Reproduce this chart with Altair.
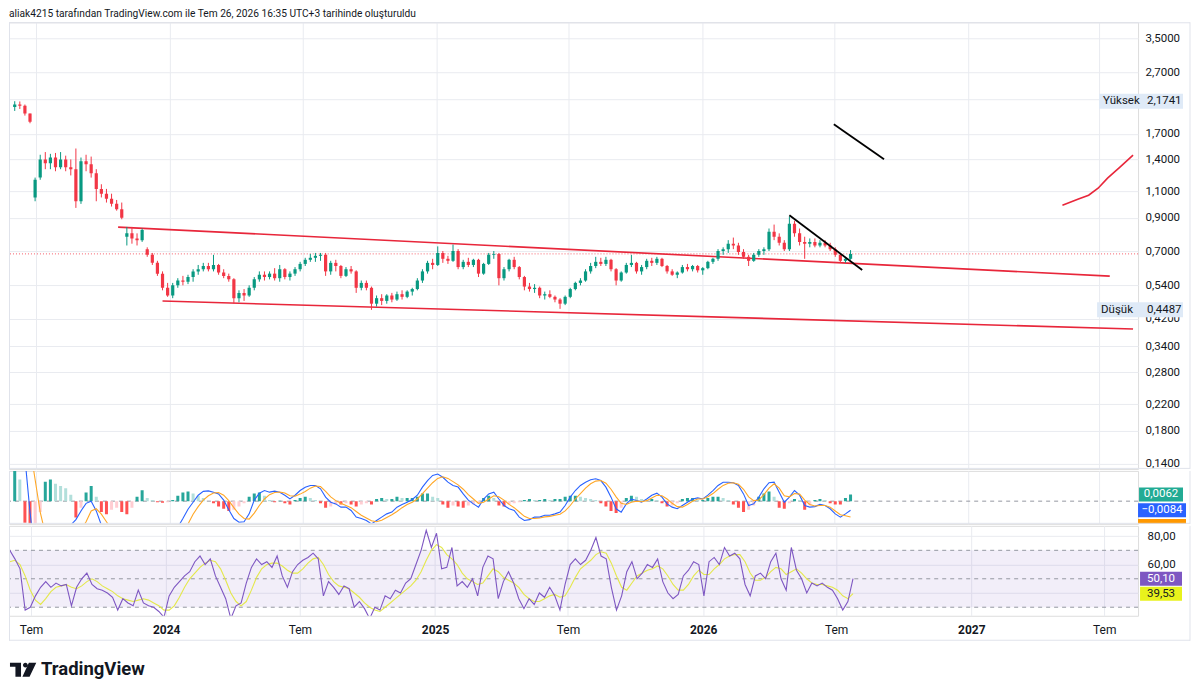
import altair as alt
import pandas as pd

# ---------------- data (weekly samples) ----------------
start_date = "2023-06-02"

opens = [2.08, 2.12, 2.10, 1.98, 1.05, 1.22, 1.40, 1.36, 1.42, 1.32, 1.40, 1.32, 1.30, 1.02, 1.38, 1.35, 1.26, 1.12, 1.08, 1.04,
         1.00, 0.96, 0.78, 0.80, 0.77, 0.76, 0.71, 0.68, 0.64, 0.59, 0.53, 0.50, 0.54, 0.56, 0.555, 0.575, 0.60, 0.61, 0.625, 0.61,
         0.63, 0.595, 0.58, 0.565, 0.49, 0.51, 0.50, 0.53, 0.565, 0.585, 0.575, 0.59, 0.57, 0.61, 0.575, 0.59, 0.61, 0.635, 0.655, 0.665,
         0.675, 0.68, 0.60, 0.64, 0.625, 0.58, 0.61, 0.60, 0.53, 0.55, 0.53, 0.47, 0.49, 0.48, 0.50, 0.485, 0.505, 0.495, 0.515, 0.525,
         0.56, 0.60, 0.64, 0.63, 0.69, 0.66, 0.65, 0.70, 0.62, 0.645, 0.63, 0.655, 0.59, 0.635, 0.68, 0.685, 0.57, 0.61, 0.655, 0.62,
         0.575, 0.535, 0.525, 0.53, 0.50, 0.505, 0.495, 0.485, 0.47, 0.495, 0.525, 0.55, 0.56, 0.60, 0.625, 0.645, 0.635, 0.655, 0.61, 0.56,
         0.595, 0.63, 0.64, 0.60, 0.62, 0.65, 0.64, 0.66, 0.625, 0.60, 0.585, 0.595, 0.62, 0.61, 0.625, 0.605, 0.615, 0.645, 0.66, 0.70,
         0.71, 0.74, 0.73, 0.695, 0.67, 0.65, 0.68, 0.70, 0.71, 0.81, 0.78, 0.745, 0.71, 0.86, 0.80, 0.75, 0.74, 0.75, 0.73, 0.745,
         0.73, 0.71, 0.68, 0.65, 0.66]
highs = [2.174, 2.17, 2.12, 1.98, 1.22, 1.45, 1.48, 1.46, 1.47, 1.48, 1.44, 1.40, 1.52, 1.42, 1.45, 1.43, 1.30, 1.16, 1.12, 1.08,
         1.03, 1.01, 0.84, 0.84, 0.80, 0.83, 0.72, 0.69, 0.65, 0.60, 0.55, 0.55, 0.57, 0.58, 0.585, 0.61, 0.63, 0.64, 0.64, 0.68,
         0.635, 0.61, 0.59, 0.57, 0.52, 0.525, 0.54, 0.575, 0.60, 0.60, 0.60, 0.615, 0.63, 0.615, 0.60, 0.62, 0.645, 0.665, 0.685, 0.69,
         0.69, 0.69, 0.65, 0.655, 0.63, 0.62, 0.625, 0.605, 0.56, 0.56, 0.535, 0.50, 0.505, 0.505, 0.51, 0.515, 0.52, 0.52, 0.53, 0.57,
         0.61, 0.65, 0.66, 0.725, 0.70, 0.675, 0.735, 0.71, 0.655, 0.665, 0.66, 0.66, 0.64, 0.69, 0.70, 0.69, 0.62, 0.66, 0.67, 0.625,
         0.58, 0.55, 0.545, 0.535, 0.515, 0.52, 0.50, 0.49, 0.50, 0.53, 0.555, 0.57, 0.61, 0.64, 0.67, 0.665, 0.67, 0.66, 0.615, 0.60,
         0.64, 0.68, 0.645, 0.63, 0.66, 0.665, 0.67, 0.665, 0.63, 0.61, 0.60, 0.63, 0.635, 0.63, 0.63, 0.62, 0.65, 0.665, 0.71, 0.72,
         0.76, 0.775, 0.745, 0.71, 0.68, 0.69, 0.71, 0.72, 0.83, 0.855, 0.80, 0.76, 0.91, 0.88, 0.83, 0.78, 0.77, 0.77, 0.76, 0.76,
         0.745, 0.72, 0.69, 0.67, 0.705]
lows = [2.02, 2.05, 1.95, 1.84, 1.02, 1.20, 1.30, 1.30, 1.28, 1.30, 1.28, 1.24, 0.97, 1.00, 1.28, 1.22, 1.02, 1.05, 1.01, 0.98,
        0.95, 0.89, 0.73, 0.74, 0.73, 0.75, 0.67, 0.63, 0.58, 0.52, 0.495, 0.49, 0.53, 0.54, 0.545, 0.555, 0.585, 0.60, 0.60, 0.60,
        0.585, 0.57, 0.555, 0.47, 0.475, 0.48, 0.495, 0.52, 0.555, 0.56, 0.565, 0.56, 0.555, 0.565, 0.56, 0.58, 0.60, 0.625, 0.645, 0.645,
        0.65, 0.58, 0.585, 0.60, 0.57, 0.575, 0.59, 0.51, 0.52, 0.52, 0.4487, 0.46, 0.465, 0.47, 0.475, 0.48, 0.485, 0.49, 0.50, 0.52,
        0.55, 0.59, 0.61, 0.625, 0.64, 0.635, 0.645, 0.61, 0.61, 0.62, 0.62, 0.575, 0.585, 0.63, 0.66, 0.54, 0.56, 0.60, 0.61, 0.565,
        0.52, 0.515, 0.51, 0.49, 0.485, 0.49, 0.475, 0.452, 0.465, 0.49, 0.52, 0.54, 0.555, 0.59, 0.615, 0.625, 0.625, 0.60, 0.54, 0.555,
        0.59, 0.62, 0.59, 0.585, 0.61, 0.625, 0.63, 0.62, 0.59, 0.58, 0.57, 0.59, 0.60, 0.60, 0.595, 0.585, 0.61, 0.635, 0.65, 0.68,
        0.69, 0.71, 0.68, 0.66, 0.625, 0.645, 0.67, 0.68, 0.70, 0.76, 0.73, 0.70, 0.70, 0.78, 0.73, 0.66, 0.72, 0.72, 0.72, 0.72,
        0.70, 0.67, 0.64, 0.64, 0.655]
closes = [2.12, 2.10, 1.98, 1.86, 1.20, 1.40, 1.36, 1.42, 1.32, 1.40, 1.32, 1.30, 1.02, 1.38, 1.35, 1.26, 1.12, 1.08, 1.04, 1.00,
          0.96, 0.90, 0.80, 0.77, 0.76, 0.82, 0.68, 0.64, 0.59, 0.53, 0.50, 0.54, 0.56, 0.555, 0.575, 0.60, 0.61, 0.625, 0.61, 0.63,
          0.595, 0.58, 0.565, 0.49, 0.51, 0.50, 0.53, 0.565, 0.585, 0.575, 0.59, 0.57, 0.61, 0.575, 0.59, 0.61, 0.635, 0.655, 0.665, 0.675,
          0.68, 0.60, 0.64, 0.625, 0.58, 0.61, 0.60, 0.53, 0.55, 0.53, 0.47, 0.49, 0.48, 0.50, 0.485, 0.505, 0.495, 0.515, 0.525, 0.56,
          0.60, 0.64, 0.63, 0.69, 0.66, 0.65, 0.70, 0.62, 0.645, 0.63, 0.655, 0.59, 0.635, 0.68, 0.685, 0.57, 0.61, 0.655, 0.62, 0.575,
          0.535, 0.525, 0.53, 0.50, 0.505, 0.495, 0.485, 0.47, 0.495, 0.525, 0.55, 0.56, 0.60, 0.625, 0.645, 0.635, 0.655, 0.61, 0.56, 0.595,
          0.63, 0.64, 0.60, 0.62, 0.65, 0.64, 0.66, 0.625, 0.60, 0.585, 0.595, 0.62, 0.61, 0.625, 0.605, 0.615, 0.645, 0.66, 0.70, 0.71,
          0.74, 0.73, 0.695, 0.67, 0.65, 0.68, 0.70, 0.71, 0.81, 0.78, 0.745, 0.71, 0.86, 0.80, 0.75, 0.74, 0.75, 0.73, 0.745, 0.73,
          0.71, 0.68, 0.65, 0.66, 0.685]

macd_line = [0.08, 0.06, 0.04, -0.01, -0.05, -0.06, -0.055, -0.045, -0.038, -0.032, -0.027, -0.022, -0.017, -0.009, -0.002, 0.0, -0.009, -0.022, -0.03, -0.038,
             -0.045, -0.05, -0.055, -0.058, -0.058, -0.055, -0.052, -0.05, -0.048, -0.045, -0.04, -0.033, -0.024, -0.016, -0.0074, -0.001, 0.0055, 0.009, 0.0095, 0.0083,
             0.0067, 0.001, -0.008, -0.016, -0.0194, -0.019, -0.0117, 0.001, 0.0074, 0.0098, 0.0083, 0.0092, 0.0083, 0.0055, 0.0021, 0.0055, 0.0098, 0.0129, 0.0145, 0.0145,
             0.0114, 0.0037, -0.001, -0.0025, -0.0055, -0.0055, -0.0086, -0.0147, -0.016, -0.0178, -0.021, -0.0178, -0.0147, -0.0117, -0.0101, -0.0055, -0.0031, -0.001, 0.0015, 0.0055,
             0.0129, 0.019, 0.0237, 0.025, 0.022, 0.0175, 0.0145, 0.013, 0.0067, 0.001, -0.0025, -0.0055, 0.002, 0.0067, 0.0083, 0.002, -0.004, -0.007, -0.0086, -0.0147,
             -0.0178, -0.017, -0.0147, -0.0147, -0.013, -0.013, -0.0117, -0.0101, -0.004, 0.0037, 0.0098, 0.0145, 0.0175, 0.0197, 0.0206, 0.019, 0.0129, 0.0037, -0.007, -0.0101,
             -0.0025, 0.002, 0.0006, -0.0009, 0.002, 0.0055, 0.0074, 0.0037, -0.0025, -0.0055, -0.007, -0.004, -0.001, 0.002, 0.003, 0.002, 0.0055, 0.0098, 0.0145, 0.0175,
             0.0175, 0.017, 0.0145, 0.0067, -0.004, -0.0025, 0.0037, 0.0114, 0.017, 0.0175, 0.0083, -0.001, 0.0037, 0.0098, 0.0055, -0.004, -0.0055, -0.005, -0.003, -0.004,
             -0.007, -0.0117, -0.0147, -0.0117, -0.0084]
signal_line = [0.09, 0.08, 0.07, 0.05, 0.02, -0.01, -0.03, -0.045, -0.05, -0.05, -0.045, -0.04, -0.034, -0.027, -0.019, -0.009, -0.007, -0.012, -0.019, -0.026,
               -0.033, -0.039, -0.045, -0.05, -0.054, -0.056, -0.056, -0.055, -0.053, -0.051, -0.048, -0.044, -0.038, -0.03, -0.021, -0.012, -0.005, 0.001, 0.005, 0.0075,
               0.008, 0.0055, 0.0005, -0.006, -0.012, -0.016, -0.0165, -0.011, -0.004, 0.002, 0.006, 0.008, 0.0085, 0.0075, 0.005, 0.0045, 0.0065, 0.009, 0.012, 0.014,
               0.0135, 0.009, 0.004, 0.0005, -0.002, -0.004, -0.006, -0.0095, -0.013, -0.0155, -0.018, -0.019, -0.0175, -0.015, -0.0125, -0.0095, -0.006, -0.003, -0.001, 0.002,
               0.007, 0.012, 0.017, 0.021, 0.0225, 0.021, 0.018, 0.015, 0.011, 0.006, 0.002, -0.002, -0.001, 0.002, 0.005, 0.004, 0.001, -0.003, -0.006, -0.01,
               -0.014, -0.016, -0.016, -0.0155, -0.0145, -0.014, -0.013, -0.012, -0.009, -0.004, 0.002, 0.007, 0.012, 0.016, 0.0185, 0.019, 0.0165, 0.011, 0.004, -0.002,
               -0.003, -0.001, 0.0, -0.0005, 0.0005, 0.003, 0.0055, 0.005, 0.002, -0.002, -0.005, -0.0055, -0.003, 0.0, 0.002, 0.002, 0.004, 0.007, 0.011, 0.0145,
               0.0165, 0.017, 0.0155, 0.011, 0.004, 0.0005, 0.001, 0.006, 0.012, 0.016, 0.012, 0.005, 0.004, 0.007, 0.0065, 0.001, -0.003, -0.0045, -0.004, -0.004,
               -0.0055, -0.009, -0.0125, -0.0135, -0.0146]
hist_vals = [0.03, 0.02, -0.02, -0.035, -0.03, -0.01, 0.018, 0.02, 0.016, 0.014, 0.012, 0.006, -0.015, -0.006, 0.008, 0.014, 0.004, -0.01, -0.012, -0.008,
             -0.006, -0.01, -0.012, -0.006, 0.004, 0.01, 0.003, 0.001, -0.001, -0.0015, -0.001, 0.001, 0.005, 0.008, 0.009, 0.007, 0.005, 0.003, 0.0, -0.002,
             -0.005, -0.007, -0.009, -0.008, -0.005, -0.002, 0.004, 0.007, 0.008, 0.005, 0.001, -0.001, 0.0005, -0.002, -0.003, 0.001, 0.003, 0.004, 0.003, 0.001,
             -0.002, -0.006, -0.005, -0.003, -0.003, -0.002, -0.003, -0.005, -0.003, -0.002, -0.003, 0.002, 0.003, 0.002, 0.002, 0.004, 0.003, 0.003, 0.003, 0.004,
             0.007, 0.007, 0.004, 0.003, -0.003, -0.006, -0.004, -0.005, -0.006, -0.004, -0.003, -0.002, 0.003, 0.005, 0.003, -0.004, -0.005, -0.003, -0.002, -0.001,
             0.001, 0.002, 0.001, 0.001, 0.002, 0.001, 0.002, 0.002, 0.004, 0.005, 0.005, 0.004, 0.003, 0.002, 0.001, -0.002, -0.005, -0.009, -0.011, -0.006,
             0.003, 0.005, 0.004, 0.002, 0.001, 0.002, 0.001, -0.002, -0.005, -0.004, -0.002, 0.002, 0.003, 0.003, 0.001, 0.001, 0.003, 0.004, 0.004, 0.003,
             0.001, -0.003, -0.006, -0.01, -0.008, -0.004, 0.004, 0.007, 0.009, 0.004, -0.006, -0.007, -0.002, 0.002, 0.001, -0.008, -0.004, 0.001, 0.002, 0.001,
             -0.002, -0.003, -0.003, 0.003, 0.0062]

rsi_vals = [70, 64, 57, 28, 30, 38, 44, 48, 44, 47, 45, 46, 31, 44, 50, 54, 46, 43, 42, 40,
            37, 28, 36, 33, 31, 42, 33, 31, 30, 27, 23, 38, 44, 48, 52, 55, 62, 66, 60, 64,
            52, 44, 36, 22, 31, 33, 47, 58, 64, 60, 62, 58, 66, 52, 44, 55, 60, 63, 65, 68,
            64, 38, 48, 44, 39, 45, 43, 30, 34, 29, 22, 30, 28, 38, 36, 42, 40, 47, 50, 60,
            70, 84, 72, 82, 57, 58, 72, 45, 48, 44, 50, 38, 58, 66, 64, 36, 48, 55, 47, 36,
            29, 36, 32, 40, 37, 44, 38, 28, 46, 60, 64, 60, 63, 70, 79, 66, 64, 44, 28, 38,
            55, 62, 50, 54, 60, 58, 64, 48, 40, 36, 39, 52, 56, 62, 60, 38, 62, 65, 60, 72,
            66, 68, 64, 46, 38, 52, 54, 50, 62, 68, 50, 42, 72, 56, 50, 40, 47, 45, 47, 44,
            42, 36, 28, 34, 50.1]
rsi_ma_vals = [62, 63, 60, 52, 42, 35, 32, 36, 41, 44, 45, 46, 44, 43, 45, 48, 50, 48, 45, 43,
               41, 38, 36, 35, 34, 35, 36, 35, 33, 31, 28, 28, 31, 37, 44, 50, 54, 58, 61, 63,
               62, 57, 49, 40, 34, 31, 34, 42, 51, 57, 60, 61, 61, 59, 56, 54, 54, 57, 61, 64,
               65, 60, 53, 48, 45, 44, 43, 40, 37, 33, 30, 28, 27, 30, 33, 36, 39, 42, 45, 49,
               55, 63, 70, 74, 72, 67, 64, 60, 54, 50, 48, 46, 47, 52, 57, 55, 51, 49, 47, 44,
               39, 36, 34, 34, 36, 38, 39, 37, 38, 44, 51, 57, 60, 63, 67, 69, 68, 61, 52, 44,
               42, 47, 52, 54, 56, 57, 59, 57, 52, 46, 42, 42, 46, 52, 56, 53, 53, 57, 60, 64,
               66, 67, 67, 62, 54, 49, 49, 51, 55, 58, 57, 53, 55, 57, 54, 50, 47, 46, 46, 45,
               44, 42, 38, 36, 39.53]

# drawings (date, price)
red_group = ["up", "up", "low", "low", "arc", "arc", "arc", "arc", "arc", "arc", "arc"]
red_dates = ["2023-10-22", "2027-07-15", "2023-12-22", "2027-08-16",
             "2027-05-11", "2027-06-02", "2027-06-16", "2027-06-29", "2027-07-12", "2027-07-29", "2027-08-16"]
red_prices = [0.839, 0.579, 0.4795, 0.388, 0.99, 1.037, 1.068, 1.126, 1.215, 1.32, 1.445]
black_group = ["a", "a", "b", "b"]
black_dates = ["2026-07-01", "2026-09-08", "2026-05-01", "2026-08-09"]
black_prices = [1.827, 1.402, 0.918, 0.606]

last_price = 0.685
high_label, low_label = 2.1741, 0.4487

tick_dates = ["2023-07-01", "2024-01-01", "2024-07-01", "2025-01-01", "2025-07-01",
              "2026-01-01", "2026-07-01", "2027-01-01", "2027-07-01"]
price_ticks = [0.14, 0.18, 0.22, 0.28, 0.34, 0.42, 0.54, 0.7, 0.9, 1.1, 1.4, 1.7, 2.2, 2.7, 3.5]
rsi_ticks = [40, 60, 80]
rsi_levels = [30, 50, 70]
title_text = "aliak4215 tarafından TradingView.com ile Tem 26, 2026 16:35 UTC+3 tarihinde oluşturuldu"

# ---------------- styling ----------------
FONT = "Roboto"
TXT = "#131722"
GRID = "#e9ebf0"
BORDER = "#e0e3eb"
GREEN = "#089981"
RED = "#f23645"
W = 1130
FULL_W = 1182
H_MAIN, H_MACD, H_RSI = 447, 53, 90


def dt(s):
    y, m, d = map(int, s.split("-"))
    return alt.DateTime(year=y, month=m, date=d)


xscale = alt.Scale(domain=[dt("2023-06-01"), dt("2027-08-16")], nice=False)
grid_x_axis = alt.Axis(values=[dt(s) for s in tick_dates], labels=False, ticks=False, domain=False,
                       grid=True, gridColor=GRID, title=None)
bottom_x_axis = alt.Axis(values=[dt(s) for s in tick_dates],
                         labelExpr="month(datum.value) == 0 ? timeFormat(datum.value, '%Y') : 'Tem'",
                         labelFontWeight={"condition": {"test": "month(datum.value) == 0", "value": "bold"},
                                          "value": "normal"},
                         ticks=False, domain=False, grid=True, gridColor=GRID, labelPadding=9,
                         labelFontSize=12, labelColor=TXT, labelFont=FONT, labelOverlap=False, title=None)


def X(field, axis=grid_x_axis):
    return alt.X(field, type="temporal", scale=xscale, axis=axis, title=None)


main_scale = alt.Scale(type="log", domain=[0.1347, 3.95], nice=False, zero=False)
main_axis = alt.Axis(orient="right", values=price_ticks,
                     labelExpr="replace(format(datum.value, '.4f'), '.', ',')",
                     grid=True, gridColor=GRID, ticks=False, domain=False, labelPadding=7,
                     labelFontSize=11.5, labelColor=TXT, labelFont=FONT, labelOverlap=False, title=None)


def YM(field):
    return alt.Y(field, type="quantitative", scale=main_scale, axis=main_axis)


macd_scale = alt.Scale(domain=[-0.0209, 0.0279], nice=False, zero=False)


def YD(field):
    return alt.Y(field, type="quantitative", scale=macd_scale, axis=None)


rsi_scale = alt.Scale(domain=[24.0, 87.2], nice=False, zero=False)
rsi_axis = alt.Axis(orient="right", values=rsi_ticks,
                    labelExpr="replace(format(datum.value, '.2f'), '.', ',')",
                    grid=True, gridColor=GRID, ticks=False, domain=False, labelPadding=9,
                    labelFontSize=11.5, labelColor=TXT, labelFont=FONT, labelOverlap=False, title=None)


def YR(field):
    return alt.Y(field, type="quantitative", scale=rsi_scale, axis=rsi_axis)


def tag(yfn, value, text, fill, tcolor, cx, w=44, h=14, yoff=0, tx=None, align="center"):
    d = pd.DataFrame({"v": [value], "t": [text]})
    hh = h / w
    path = f"M-1,{-hh:.4f}L1,{-hh:.4f}L1,{hh:.4f}L-1,{hh:.4f}Z"
    box = alt.Chart(d).mark_point(shape=path, size=w * w, filled=True, fill=fill, color=fill,
                                  opacity=1, strokeWidth=0, yOffset=yoff).encode(
        x=alt.value(cx), y=yfn("v"))
    if text == "":
        return box
    txt = alt.Chart(d).mark_text(align=align, baseline="middle", color=tcolor, fontSize=11.5,
                                 font=FONT, yOffset=yoff).encode(
        x=alt.value(cx if tx is None else tx), y=yfn("v"), text="t:N")
    return box + txt


def label(yfn, value, text, x, color=TXT):
    d = pd.DataFrame({"v": [value], "t": [text]})
    return alt.Chart(d).mark_text(align="left", baseline="middle", color=color, fontSize=11.5,
                                  font=FONT).encode(x=alt.value(x), y=yfn("v"), text="t:N")


def borders(h, top=False, bottom=True):
    """light frame pieces of one pane (left, right, optional top/bottom)"""
    parts = [
        alt.Chart(pd.DataFrame({"k": [0]})).mark_rule(color=BORDER, strokeWidth=1).encode(
            x=alt.value(0.5), y=alt.value(0), y2=alt.value(h)),
        alt.Chart(pd.DataFrame({"k": [0]})).mark_rule(color=BORDER, strokeWidth=1).encode(
            x=alt.value(FULL_W), y=alt.value(0), y2=alt.value(h)),
    ]
    if top:
        parts.append(alt.Chart(pd.DataFrame({"k": [0]})).mark_rule(color=BORDER, strokeWidth=1).encode(
            x=alt.value(0), x2=alt.value(FULL_W), y=alt.value(0.5)))
    if bottom:
        parts.append(alt.Chart(pd.DataFrame({"k": [0]})).mark_rule(color=BORDER, strokeWidth=1).encode(
            x=alt.value(0), x2=alt.value(FULL_W), y=alt.value(h - 0.5)))
    return alt.layer(*parts)


# ---------------- frames ----------------
N = len(closes)
df = pd.DataFrame({
    "date": pd.date_range(start_date, periods=N, freq="7D"),
    "open": opens, "high": highs, "low": lows, "close": closes,
    "macd": macd_line, "signal": signal_line, "hist": hist_vals,
    "rsi": rsi_vals, "rsi_ma": rsi_ma_vals,
})
hcol = []
prev = 0.0
for h in hist_vals:
    if h >= 0:
        hcol.append("#26a69a" if h >= prev else "#b2dfdb")
    else:
        hcol.append("#ffcdd2" if h > prev else "#ff5252")
    prev = h
df["hcol"] = hcol

red_df = pd.DataFrame({"g": red_group, "date": pd.to_datetime(red_dates), "p": red_prices})
black_df = pd.DataFrame({"g": black_group, "date": pd.to_datetime(black_dates), "p": black_prices})

candle_color = alt.condition("datum.close >= datum.open", alt.value(GREEN), alt.value(RED))
base = alt.Chart(df)

# ---------------- main panel ----------------
price_line = alt.Chart(pd.DataFrame({"p": [last_price]})).mark_rule(
    color=RED, strokeDash=[1, 2], strokeWidth=1, opacity=0.8).encode(y=YM("p"))
wicks = base.mark_rule(strokeWidth=1, clip=True).encode(x=X("date"), y=YM("low"), y2="high", color=candle_color)
bodies = base.mark_bar(width=3.2, clip=True).encode(x=X("date"), y=YM("open"), y2="close", color=candle_color)
red_lines = alt.Chart(red_df).mark_line(color="#e8263a", strokeWidth=1.6).encode(
    x=X("date"), y=YM("p"), detail="g:N")
black_lines = alt.Chart(black_df).mark_line(color="#000000", strokeWidth=1.8).encode(
    x=X("date"), y=YM("p"), detail="g:N")

hi_tag = (tag(YM, high_label, "", "#dfeaf7", TXT, 1133, w=84, h=15)
          + label(YM, high_label, "Yüksek", 1095) + label(YM, high_label, "2,1741", 1139))
lo_tag = (tag(YM, low_label, "", "#dfeaf7", TXT, 1132, w=86, h=15)
          + label(YM, low_label, "Düşük", 1093) + label(YM, low_label, "0,4487", 1139))

title_mark = alt.Chart(pd.DataFrame({"t": [title_text]})).mark_text(
    align="left", baseline="middle", fontSize=10.2, font=FONT, color=TXT).encode(
    x=alt.value(0), y=alt.value(-8), text="t:N")

main = alt.layer(price_line, red_lines, wicks, bodies, black_lines, hi_tag, lo_tag,
                 title_mark, borders(H_MAIN, top=True)).properties(width=W, height=H_MAIN)

# ---------------- MACD panel ----------------
zero_line = alt.Chart(pd.DataFrame({"z": [0.0]})).mark_rule(
    color="#9598a1", strokeDash=[4, 4], strokeWidth=1).encode(y=YD("z"))
hist_bars = base.mark_bar(width=3.0, clip=True).encode(
    x=X("date"), y=YD("hist"), y2=alt.datum(0), color=alt.Color("hcol:N", scale=None))
macd_l = base.mark_line(color="#2962ff", strokeWidth=1.1, clip=True).encode(x=X("date"), y=YD("macd"))
sig_l = base.mark_line(color="#ffa726", strokeWidth=1.1, clip=True).encode(x=X("date"), y=YD("signal"))
macd_tags = (tag(YD, signal_line[-1], "", "#ff9800", "white", 1154, w=48, h=5, yoff=4.5)
             + tag(YD, hist_vals[-1], "0,0062", "#22ab94", "white", 1153, w=44, h=14)
             + tag(YD, macd_line[-1], "\u22120,0084", "#2962ff", "white", 1154, w=48, h=14))
macd_panel = alt.layer(zero_line, hist_bars, macd_l, sig_l, macd_tags,
                       borders(H_MACD)).properties(width=W, height=H_MACD)

# ---------------- RSI panel ----------------
band_df = pd.DataFrame({"x0": pd.to_datetime(["2023-06-01"]), "x1": pd.to_datetime(["2027-08-16"]),
                        "lo": [rsi_levels[0]], "hi": [rsi_levels[2]]})
band = alt.Chart(band_df).mark_rect(color="#7e57c2", opacity=0.1).encode(
    x=X("x0", bottom_x_axis), x2="x1", y=YR("lo"), y2="hi")
levels = alt.Chart(pd.DataFrame({"l": rsi_levels})).mark_rule(
    color="#9598a1", strokeDash=[4, 4], strokeWidth=1).encode(y=YR("l"))
rsi_l = base.mark_line(color="#7e57c2", strokeWidth=1.1, clip=True).encode(x=X("date", bottom_x_axis), y=YR("rsi"))
rsi_ma_l = base.mark_line(color="#e4e84a", strokeWidth=1.1, clip=True).encode(x=X("date", bottom_x_axis), y=YR("rsi_ma"))
rsi_tags = (tag(YR, rsi_vals[-1], "50,10", "#7e57c2", "white", 1153, w=42, h=14)
            + tag(YR, rsi_ma_vals[-1], "39,53", "#e8f21c", TXT, 1153, w=42, h=14))

logo_df = pd.DataFrame({"t": ["TradingView"]})
logo_path = ("M-0.93,-0.5L-0.14,-0.5L-0.14,0.5L-0.54,0.5L-0.54,-0.21L-0.93,-0.21Z"
             "M0.0,-0.33A0.17,0.17 0 1 0 0.34,-0.33A0.17,0.17 0 1 0 0.0,-0.33Z"
             "M0.42,-0.5L0.95,-0.5L0.47,0.5L-0.04,0.5Z")
logo_icon = alt.Chart(logo_df).mark_point(shape=logo_path, size=784, filled=True, fill=TXT, color=TXT,
                                          opacity=1, strokeWidth=0).encode(x=alt.value(14), y=alt.value(144))
logo_text = alt.Chart(logo_df).mark_text(align="left", baseline="middle", fontSize=18.5, fontWeight="bold",
                                         font=FONT, color=TXT).encode(
    x=alt.value(32), y=alt.value(143), text="t:N")

rsi_panel = alt.layer(band, levels, rsi_ma_l, rsi_l, rsi_tags, borders(115), logo_icon, logo_text).properties(
    width=W, height=H_RSI)

chart = alt.vconcat(main, macd_panel, rsi_panel, spacing=0).properties(
    padding={"left": 0, "top": 0, "right": 0, "bottom": 0}
).configure_view(stroke=None).configure(background="white")

chart.save("out.html", embed_options={"renderer": "svg", "actions": False})
